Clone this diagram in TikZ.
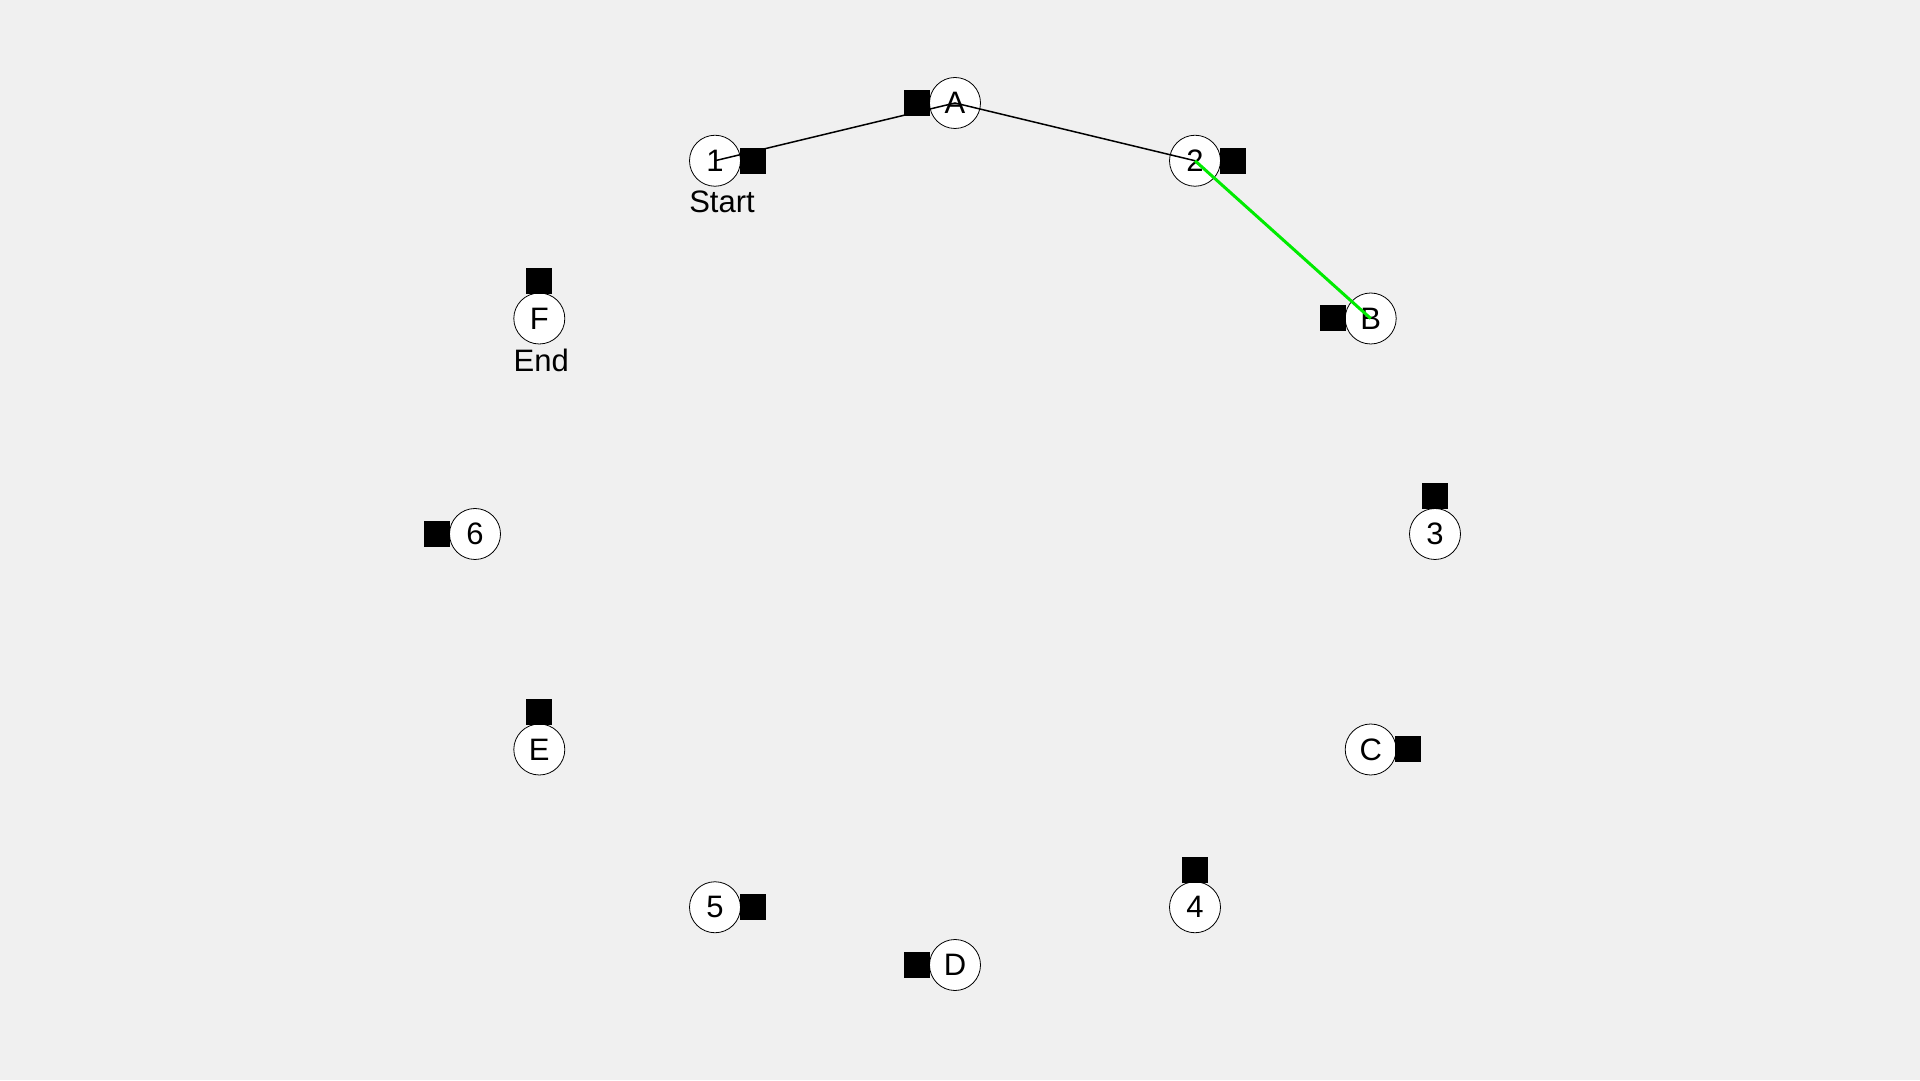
\documentclass[tikz,border=0pt]{standalone}
\usepackage{fontspec}
\setmainfont{Liberation Sans}
\usetikzlibrary{positioning}
\definecolor{canvas}{RGB}{240,240,240}
\definecolor{trail}{RGB}{0,235,0}

\begin{document}
\begin{tikzpicture}[x=1pt,y=1pt,
    stop/.style={circle, draw, line width=0.8pt, fill=white, minimum size=51pt, inner sep=0pt, font=\fontsize{31}{36}\selectfont},
    marker/.style={rectangle, fill=black, minimum size=26pt, inner sep=0pt},
    tag/.style={font=\fontsize{31}{36}\selectfont, inner sep=0pt, anchor=north west}]
\fill[canvas] (0,0) rectangle (1920,1080);
% stops round the ellipse
\foreach \name/\ang in {A/90, 2/60, B/30, 3/0, C/-30, 4/-60, D/-90, 5/-120, E/-150, 6/180, F/150, 1/120}
  \node[stop] (s\name) at ({955+480*cos(\ang)}, {546+431*sin(\ang)}) {\name};

% route
\draw[line width=1.5pt] (s1.center) -- (sA.center) -- (s2.center);
\draw[trail, line width=3pt] (s2.center) -- (sB.center);

% markers
\node[marker, right=-1.5pt of s1] (m1) {};
\node[marker, left=-1.5pt of sA] (mA) {};
\node[marker, right=-1.5pt of s2] (m2) {};
\node[marker, left=-1.5pt of sB] (mB) {};
\node[marker, above=-1.5pt of s3] (m3) {};
\node[marker, right=-1.5pt of sC] (mC) {};
\node[marker, above=-1.5pt of s4] (m4) {};
\node[marker, left=-1.5pt of sD] (mD) {};
\node[marker, right=-1.5pt of s5] (m5) {};
\node[marker, above=-1.5pt of sE] (mE) {};
\node[marker, left=-1.5pt of s6] (m6) {};
\node[marker, above=-1.5pt of sF] (mF) {};

% labels
\node[tag] (start) at ([yshift=-4pt]s1.west |- s1.south) {Start};
\node[tag] (end) at ([yshift=-4pt]sF.west |- sF.south) {End};
\end{tikzpicture}
\end{document}
